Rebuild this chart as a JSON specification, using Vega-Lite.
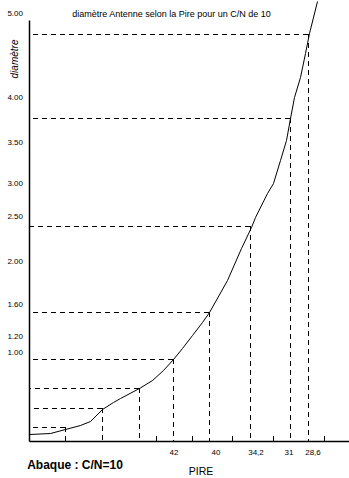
{
  "$schema": "https://vega.github.io/schema/vega-lite/v6.json",
  "autosize": {"type": "none"},
  "padding": {"left": 29, "top": 20, "right": 0, "bottom": 37},
  "width": 320,
  "height": 421,
  "background": "white",
  "config": {"view": {"stroke": null}, "font": "Liberation Sans"},
  "datasets": {
    "curve": [
      {"pire": 0, "diam": 7}, {"pire": 21, "diam": 8}, {"pire": 36, "diam": 12}, {"pire": 51, "diam": 16},
      {"pire": 61, "diam": 20}, {"pire": 73, "diam": 32}, {"pire": 84, "diam": 39}, {"pire": 91, "diam": 43},
      {"pire": 110, "diam": 53}, {"pire": 123, "diam": 61}, {"pire": 134, "diam": 71}, {"pire": 144, "diam": 82},
      {"pire": 153, "diam": 93}, {"pire": 163, "diam": 106}, {"pire": 173, "diam": 119}, {"pire": 180, "diam": 129},
      {"pire": 198, "diam": 161}, {"pire": 212, "diam": 193}, {"pire": 222, "diam": 214}, {"pire": 226, "diam": 224},
      {"pire": 238, "diam": 248}, {"pire": 244, "diam": 258}, {"pire": 251, "diam": 281}, {"pire": 257, "diam": 301},
      {"pire": 261, "diam": 323}, {"pire": 265, "diam": 344}, {"pire": 271, "diam": 364}, {"pire": 276, "diam": 388},
      {"pire": 280, "diam": 408}, {"pire": 288, "diam": 440}
    ],
    "guides": [
      {"pire": 279, "diam": 407}, {"pire": 261, "diam": 323}, {"pire": 221, "diam": 215}, {"pire": 180, "diam": 129},
      {"pire": 144, "diam": 82}, {"pire": 110, "diam": 53}, {"pire": 73, "diam": 33}, {"pire": 36, "diam": 14}
    ],
    "ticks": [
      {"pire": 127}, {"pire": 163}, {"pire": 203}, {"pire": 244}, {"pire": 295}
    ],
    "ylabels": [
      {"label": "5.00", "diam": 427}, {"label": "4.00", "diam": 343}, {"label": "3.50", "diam": 298},
      {"label": "3.00", "diam": 257}, {"label": "2.50", "diam": 224}, {"label": "2.00", "diam": 179},
      {"label": "1.60", "diam": 136}, {"label": "1.20", "diam": 104}, {"label": "1.00", "diam": 88}
    ],
    "xlabels": [
      {"label": "42", "pire": 145}, {"label": "40", "pire": 187}, {"label": "34,2", "pire": 227},
      {"label": "31", "pire": 260}, {"label": "28,6", "pire": 284}
    ]
  },
  "layer": [
    {
      "data": {"name": "guides"},
      "mark": {"type": "rule", "strokeDash": [5, 4], "color": "black", "strokeWidth": 1, "yOffset": 0.5},
      "encoding": {
        "x": {"field": "pire", "type": "quantitative", "scale": {"domain": [0, 320], "nice": false, "zero": false},
          "axis": {"title": null, "labels": false, "ticks": false, "grid": false, "domainColor": "black", "domainWidth": 1.5}},
        "x2": {"datum": 0},
        "y": {"field": "diam", "type": "quantitative", "scale": {"domain": [0, 421], "nice": false, "zero": false},
          "axis": {"title": null, "labels": false, "ticks": false, "grid": false, "domainColor": "black", "domainWidth": 1.5}}
      }
    },
    {
      "data": {"name": "guides"},
      "mark": {"type": "rule", "strokeDash": [5, 4], "color": "black", "strokeWidth": 1, "xOffset": 0.5},
      "encoding": {
        "x": {"field": "pire", "type": "quantitative"},
        "y": {"field": "diam", "type": "quantitative"},
        "y2": {"datum": 0}
      }
    },
    {
      "data": {"name": "ticks"},
      "mark": {"type": "rule", "color": "black", "strokeWidth": 1, "xOffset": 0.5},
      "encoding": {
        "x": {"field": "pire", "type": "quantitative"},
        "y": {"datum": 5, "type": "quantitative"},
        "y2": {"datum": 0}
      }
    },
    {
      "data": {"name": "curve"},
      "mark": {"type": "line", "color": "black", "strokeWidth": 1, "xOffset": 0.5, "yOffset": 0.5},
      "encoding": {
        "x": {"field": "pire", "type": "quantitative"},
        "y": {"field": "diam", "type": "quantitative"}
      }
    },
    {
      "data": {"name": "ylabels"},
      "mark": {"type": "text", "align": "right", "baseline": "middle", "fontSize": 8, "color": "black"},
      "encoding": {
        "x": {"datum": -6, "type": "quantitative"},
        "y": {"field": "diam", "type": "quantitative"},
        "text": {"field": "label"}
      }
    },
    {
      "data": {"name": "xlabels"},
      "mark": {"type": "text", "align": "center", "baseline": "middle", "fontSize": 8, "color": "black"},
      "encoding": {
        "x": {"field": "pire", "type": "quantitative"},
        "y": {"datum": -12, "type": "quantitative"},
        "text": {"field": "label"}
      }
    },
    {
      "data": {"values": [
        {"text": "diamètre Antenne selon la Pire pour un C/N de 10", "pire": 142.5, "diam": 427}
      ]},
      "mark": {"type": "text", "align": "center", "baseline": "middle", "fontSize": 9, "color": "black"},
      "encoding": {
        "x": {"field": "pire", "type": "quantitative"},
        "y": {"field": "diam", "type": "quantitative"},
        "text": {"field": "text"}
      }
    },
    {
      "data": {"values": [{"text": "PIRE", "pire": 172, "diam": -31}]},
      "mark": {"type": "text", "align": "center", "baseline": "middle", "fontSize": 10.5, "color": "black"},
      "encoding": {
        "x": {"field": "pire", "type": "quantitative"},
        "y": {"field": "diam", "type": "quantitative"},
        "text": {"field": "text"}
      }
    },
    {
      "data": {"values": [{"text": "Abaque : C/N=10", "pire": 46, "diam": -24}]},
      "mark": {"type": "text", "align": "center", "baseline": "middle", "fontSize": 12, "fontWeight": "bold", "color": "black"},
      "encoding": {
        "x": {"field": "pire", "type": "quantitative"},
        "y": {"field": "diam", "type": "quantitative"},
        "text": {"field": "text"}
      }
    },
    {
      "data": {"values": [{"text": "diamètre", "pire": -14, "diam": 382}]},
      "mark": {"type": "text", "align": "center", "baseline": "middle", "angle": 270, "fontSize": 10, "fontStyle": "italic", "color": "black"},
      "encoding": {
        "x": {"field": "pire", "type": "quantitative"},
        "y": {"field": "diam", "type": "quantitative"},
        "text": {"field": "text"}
      }
    }
  ]
}
